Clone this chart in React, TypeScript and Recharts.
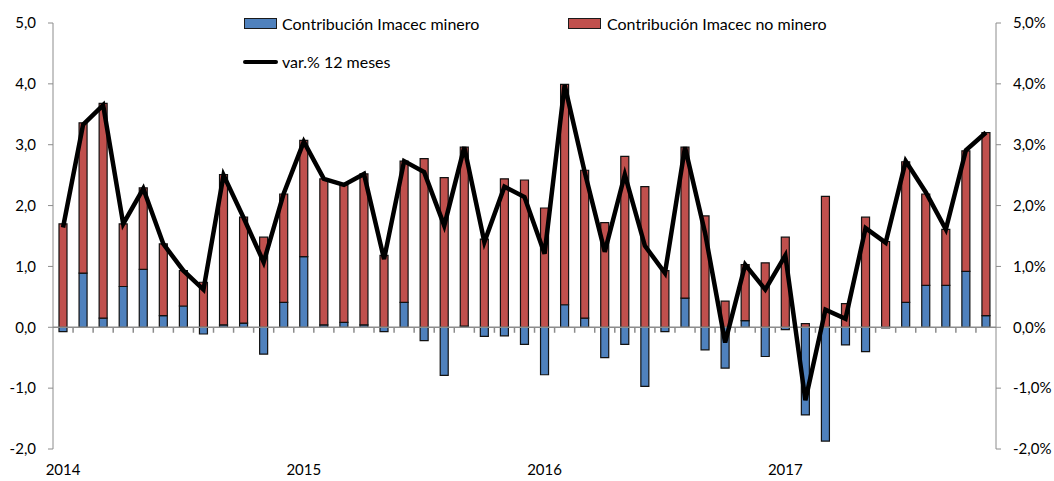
import React from 'react';
import { ComposedChart, Bar, Line, XAxis, YAxis, ReferenceLine } from 'recharts';

// Contribución al Imacec (pp) y var.% 12 meses, ene-2014 a nov-2017
const months = [
  'ene-14', 'feb-14', 'mar-14', 'abr-14', 'may-14', 'jun-14', 'jul-14', 'ago-14', 'sep-14', 'oct-14', 'nov-14', 'dic-14',
  'ene-15', 'feb-15', 'mar-15', 'abr-15', 'may-15', 'jun-15', 'jul-15', 'ago-15', 'sep-15', 'oct-15', 'nov-15', 'dic-15',
  'ene-16', 'feb-16', 'mar-16', 'abr-16', 'may-16', 'jun-16', 'jul-16', 'ago-16', 'sep-16', 'oct-16', 'nov-16', 'dic-16',
  'ene-17', 'feb-17', 'mar-17', 'abr-17', 'may-17', 'jun-17', 'jul-17', 'ago-17', 'sep-17', 'oct-17', 'nov-17',
];

const minero = [
  -0.07, 0.89, 0.15, 0.67, 0.95, 0.19, 0.35, -0.11, 0.04, 0.07, -0.44, 0.41,
  1.16, 0.04, 0.08, 0.04, -0.07, 0.41, -0.22, -0.79, 0.02, -0.15, -0.14, -0.28,
  -0.78, 0.37, 0.15, -0.5, -0.28, -0.97, -0.07, 0.48, -0.37, -0.67, 0.11, -0.48,
  -0.04, -1.44, -1.87, -0.29, -0.4, -0.01, 0.41, 0.69, 0.69, 0.92, 0.19,
];

const noMinero = [
  1.7, 2.47, 3.53, 1.03, 1.34, 1.18, 0.58, 0.74, 2.47, 1.74, 1.48, 1.78,
  1.91, 2.4, 2.26, 2.48, 1.18, 2.32, 2.77, 2.46, 2.94, 1.45, 2.44, 2.42,
  1.96, 3.62, 2.43, 1.72, 2.81, 2.31, 0.93, 2.48, 1.83, 0.43, 0.92, 1.06,
  1.48, 0.06, 2.15, 0.39, 1.81, 1.41, 2.31, 1.5, 0.92, 1.98, 3.01,
];

const var12m = [
  1.64, 3.33, 3.65, 1.7, 2.28, 1.37, 0.93, 0.62, 2.5, 1.8, 1.07, 2.2,
  3.05, 2.44, 2.34, 2.52, 1.12, 2.73, 2.55, 1.67, 2.96, 1.4, 2.31, 2.14,
  1.21, 3.98, 2.55, 1.24, 2.51, 1.34, 0.89, 2.96, 1.55, -0.25, 1.03, 0.62,
  1.18, -1.2, 0.29, 0.14, 1.63, 1.39, 2.73, 2.22, 1.61, 2.91, 3.2,
];

const yearTicks = ['ene-14', 'ene-15', 'ene-16', 'ene-17'];
const yearLabels = ['2014', '2015', '2016', '2017'];
const yTicks = [-2, -1, 0, 1, 2, 3, 4, 5];

const BLUE = '#4F81BD';
const RED = '#C0504D';
const AXIS = '#8c8c8c';
const FONT = 'Lato, "Open Sans", sans-serif';

const data = months.map((m, i) => ({
  mes: m,
  minero: minero[i],
  noMinero: noMinero[i],
  var12m: var12m[i],
}));

const fmt = (v: number) => v.toFixed(1).replace('.', ',');

export default function App() {
  return (
    <div style={{ position: 'absolute', left: 0, top: 0, width: 1054, height: 481, background: '#fff', fontFamily: FONT }}>
      <ComposedChart
        width={1054}
        height={481}
        data={data}
        stackOffset="sign"
        margin={{ top: 23, right: 0, bottom: 0, left: 0 }}
        barSize={8}
      >
        <XAxis
          dataKey="mes"
          ticks={yearTicks}
          interval={0}
          tickLine={false}
          axisLine={false}
          tickSize={0}
          tickMargin={15}
          height={32}
          tick={{ fill: '#000', fontSize: 15, fontFamily: FONT }}
          tickFormatter={(v: string) => yearLabels[yearTicks.indexOf(v)]}
        />
        <YAxis
          yAxisId="left"
          width={53}
          domain={[-2, 5]}
          ticks={yTicks}
          interval={0}
          tickSize={5}
          tickMargin={12}
          axisLine={{ stroke: AXIS }}
          tickLine={{ stroke: AXIS }}
          tick={{ fill: '#000', fontSize: 15, fontFamily: FONT }}
          tickFormatter={fmt}
        />
        <YAxis
          yAxisId="right"
          orientation="right"
          width={58}
          domain={[-2, 5]}
          ticks={yTicks}
          interval={0}
          tickSize={5}
          tickMargin={12}
          axisLine={{ stroke: AXIS }}
          tickLine={{ stroke: AXIS }}
          tick={{ fill: '#000', fontSize: 15, fontFamily: FONT, textAnchor: 'start' }}
          tickFormatter={(v: number) => fmt(v) + '%'}
        />
        <Bar yAxisId="left" dataKey="minero" stackId="a" fill={BLUE} stroke="#111" strokeWidth={1.2} isAnimationActive={false} />
        <Bar yAxisId="left" dataKey="noMinero" stackId="a" fill={RED} stroke="#111" strokeWidth={1.2} isAnimationActive={false} />
        <ReferenceLine yAxisId="left" y={0} stroke={AXIS} strokeWidth={1.5} />
        {months.slice(1).map((m) => (
          <ReferenceLine
            key={m}
            yAxisId="left"
            segment={[{ x: m, y: 0 }, { x: m, y: -0.09 }]}
            position="start"
            stroke={AXIS}
            strokeWidth={1.5}
          />
        ))}
        <Line
          yAxisId="right"
          dataKey="var12m"
          stroke="#000"
          strokeWidth={4.5}
          dot={false}
          isAnimationActive={false}
        />
      </ComposedChart>

      {/* Legend */}
      <LegendBox left={244} top={18} color={BLUE} />
      <LegendText left={282} top={14} label="Contribución Imacec minero" />
      <LegendBox left={568} top={18} color={RED} />
      <LegendText left={607} top={14} label="Contribución Imacec no minero" />
      <div style={{ position: 'absolute', left: 243, top: 60, width: 35, height: 4, background: '#000', borderRadius: 2 }} />
      <LegendText left={282} top={52} label="var.% 12 meses" />
    </div>
  );
}

function LegendBox({ left, top, color }: { left: number; top: number; color: string }) {
  return (
    <div
      style={{
        position: 'absolute',
        left,
        top,
        width: 33,
        height: 11,
        background: color,
        border: '1px solid #1a1a1a',
        boxSizing: 'border-box',
      }}
    />
  );
}

function LegendText({ left, top, label }: { left: number; top: number; label: string }) {
  return (
    <div style={{ position: 'absolute', left, top, height: 20, lineHeight: '20px', fontSize: 16, color: '#000', whiteSpace: 'nowrap' }}>
      {label}
    </div>
  );
}
